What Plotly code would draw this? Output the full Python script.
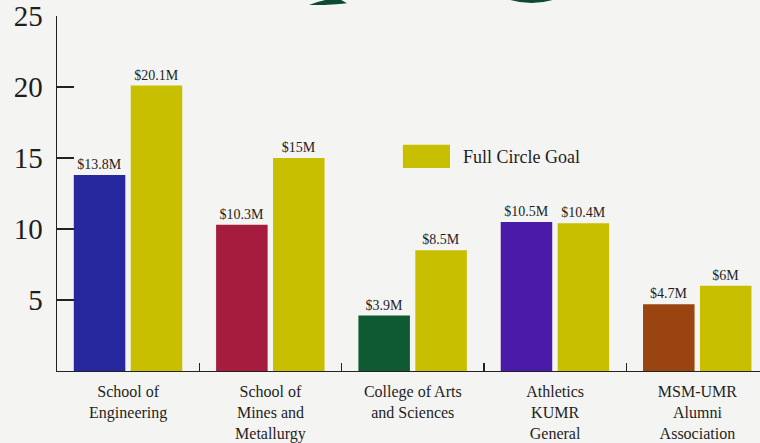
import plotly.graph_objects as go

categories = [
    "School of<br>Engineering",
    "School of<br>Mines and<br>Metallurgy",
    "College of Arts<br>and Sciences",
    "Athletics<br>KUMR<br>General",
    "MSM-UMR<br>Alumni<br>Association",
]
raised = [13.8, 10.3, 3.9, 10.5, 4.7]
goal = [20.1, 15, 8.5, 10.4, 6]
raised_labels = ["$13.8M", "$10.3M", "$3.9M", "$10.5M", "$4.7M"]
goal_labels = ["$20.1M", "$15M", "$8.5M", "$10.4M", "$6M"]
raised_colors = ["#27279e", "#a51c3e", "#0f5a33", "#4a1ba8", "#9a4412"]
goal_color = "#c8bf00"
y_ticks = [5, 10, 15, 20, 25]
y_ticktext = ["5 ", "10 ", "15 ", "20 ", "25 "]

SERIF = "Liberation Serif, Times New Roman, serif"
TXT = "#1e1e1e"
BG = "#f4f4f3"

fig = go.Figure()
fig.add_trace(go.Bar(
    x=categories, y=raised, marker=dict(color=raised_colors, line=dict(width=0)),
    offset=-0.382, width=0.362, text=raised_labels, textposition="outside",
    textfont=dict(family=SERIF, size=14, color=TXT), constraintext="none",
    cliponaxis=False, showlegend=False, hoverinfo="skip",
))
fig.add_trace(go.Bar(
    x=categories, y=goal, name="Full Circle Goal",
    marker=dict(color=goal_color, line=dict(width=0)),
    offset=0.018, width=0.362, text=goal_labels, textposition="outside",
    textfont=dict(family=SERIF, size=14, color=TXT), constraintext="none",
    cliponaxis=False, showlegend=False, hoverinfo="skip",
))

# custom legend swatch + label
fig.add_shape(type="rect", xref="paper", yref="paper",
              x0=0.492, x1=0.559, y0=0.572, y1=0.637,
              fillcolor=goal_color, line=dict(width=0))
fig.add_annotation(xref="paper", yref="paper", x=0.575, y=0.604,
                   text="Full Circle Goal", showarrow=False, xanchor="left",
                   yanchor="middle", font=dict(family=SERIF, size=18, color=TXT))

# decorative green fragments at top of page
fig.add_shape(type="path", xref="paper", yref="paper",
              path="M 0.3585,1.031 Q 0.385,1.052 0.4025,1.047 L 0.4125,1.036 Q 0.39,1.03 0.3585,1.031 Z",
              fillcolor="#0d4a36", line=dict(width=0), layer="above")
fig.add_shape(type="path", xref="paper", yref="paper",
              path="M 0.640,1.048 Q 0.675,1.025 0.710,1.048 Z",
              fillcolor="#0d4a36", line=dict(width=0), layer="above")

fig.update_layout(
    width=760, height=443,
    margin=dict(l=57, r=0, t=16, b=72, autoexpand=False),
    paper_bgcolor=BG, plot_bgcolor=BG,
    barmode="overlay",
    font=dict(family=SERIF, color=TXT),
    xaxis=dict(
        range=[-0.5, 4.44], showline=True, linecolor="#222", linewidth=1.2,
        tickson="boundaries", ticks="inside", ticklen=8, tickcolor="#222",
        tickwidth=1.2,
        tickfont=dict(family=SERIF, size=16, color=TXT), showgrid=False,
        zeroline=False, fixedrange=True, automargin=False, ticklabelstandoff=6,
    ),
    yaxis=dict(
        range=[0, 25], showline=True, linecolor="#222", linewidth=1.2,
        tickmode="array", tickvals=y_ticks, ticktext=y_ticktext,
        ticks="inside", ticklen=17, tickcolor="#222", tickwidth=1.2,
        tickfont=dict(family=SERIF, size=29, color=TXT), showgrid=False,
        zeroline=False, fixedrange=True, automargin=False,
    ),
    # helper axis that only draws the short tick marks next to the y axis line
    yaxis2=dict(
        overlaying="y", matches="y", anchor="free", position=17 / 703, side="left",
        tickmode="array", tickvals=y_ticks, ticks="outside", ticklen=17,
        tickcolor="#222", tickwidth=1.2, showticklabels=False, showline=False,
        showgrid=False, zeroline=False, fixedrange=True, automargin=False,
    ),
)

fig.write_html(
    "out.html",
    config={"displayModeBar": False, "staticPlot": True},
    post_script="document.body.style.margin='0';document.body.style.padding='0';"
                "document.body.style.background='" + BG + "';",
)
